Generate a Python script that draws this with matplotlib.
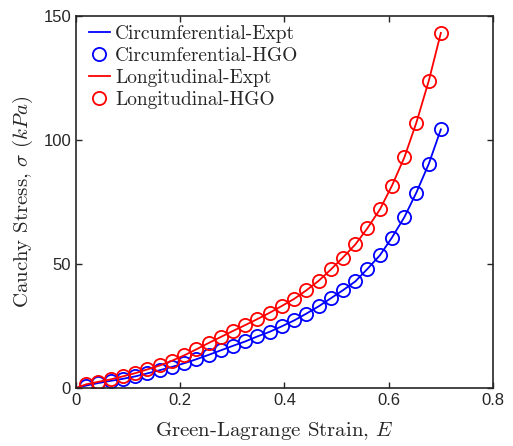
import matplotlib.pyplot as plt

# strain values of the HGO model points
strain = [0.020, 0.043, 0.067, 0.090, 0.114, 0.137, 0.161, 0.184, 0.208, 0.231,
          0.255, 0.278, 0.301, 0.325, 0.348, 0.372, 0.395, 0.419, 0.442, 0.466,
          0.489, 0.512, 0.536, 0.559, 0.583, 0.606, 0.630, 0.653, 0.677, 0.700]

circ_hgo = [1.0, 2.0, 2.9, 3.7, 4.7, 5.9, 7.2, 8.5, 10.0, 11.6,
            13.4, 15.2, 17.0, 18.8, 20.8, 22.7, 24.9, 27.3, 30.0, 33.0,
            36.2, 39.4, 43.0, 48.0, 53.5, 60.6, 68.9, 78.8, 90.5, 104.3]

long_hgo = [1.5, 2.5, 3.5, 4.7, 6.0, 7.5, 9.1, 11.0, 13.2, 15.6,
            18.2, 20.6, 23.0, 25.4, 27.8, 30.4, 33.1, 36.0, 39.4, 43.3,
            47.8, 52.6, 57.9, 64.4, 72.0, 81.5, 93.0, 107.0, 124.0, 143.2]

# experimental curves (start at the origin)
strain_expt = [0.0] + strain
circ_expt = [0.0] + circ_hgo
long_expt = [0.0] + long_hgo

plt.rcParams['mathtext.fontset'] = 'cm'
serif = 'cmr10'

fig = plt.figure(figsize=(5.13, 4.46), dpi=100)
ax = fig.add_axes([0.148, 0.13, 0.813, 0.834])

ax.plot(strain_expt, circ_expt, color='blue', lw=1.3, label='Circumferential-Expt')
ax.plot(strain, circ_hgo, 'o', color='blue', mfc='none', ms=9.5, mew=1.3,
        label='Circumferential-HGO')
ax.plot(strain_expt, long_expt, color='red', lw=1.3, label='Longitudinal-Expt')
ax.plot(strain, long_hgo, 'o', color='red', mfc='none', ms=9.5, mew=1.3,
        label='Longitudinal-HGO')

ax.set_xlim(0, 0.8)
ax.set_ylim(0, 150)
ax.set_xticks([0, 0.2, 0.4, 0.6, 0.8])
ax.set_xticklabels(['0', '0.2', '0.4', '0.6', '0.8'])
ax.set_yticks([0, 50, 100, 150])

for s in ax.spines.values():
    s.set_linewidth(1.2)
    s.set_color('#262626')
ax.tick_params(direction='in', length=4, width=1.0, top=True, right=True,
               labelsize=12, colors='#262626', labelcolor='#262626')
for lab in ax.get_xticklabels() + ax.get_yticklabels():
    lab.set_fontfamily('Liberation Sans')

ax.set_xlabel(r'Green-Lagrange Strain, $E$', fontsize=15, family=serif,
              color='#262626', labelpad=9)
ax.xaxis.set_label_coords(0.475, -0.085)
ax.set_ylabel(r'Cauchy Stress, $\sigma$ $(kPa)$', fontsize=15, family=serif,
              color='#262626', labelpad=6)

leg = ax.legend(loc='upper left', bbox_to_anchor=(0.012, 0.997), frameon=False,
                prop={'family': serif, 'size': 14},
                handlelength=1.1, handletextpad=0.25, borderaxespad=0.1,
                borderpad=0.3, labelspacing=0.2)
for t in leg.get_texts():
    t.set_color('#262626')

fig.savefig('out.png', dpi=100)
